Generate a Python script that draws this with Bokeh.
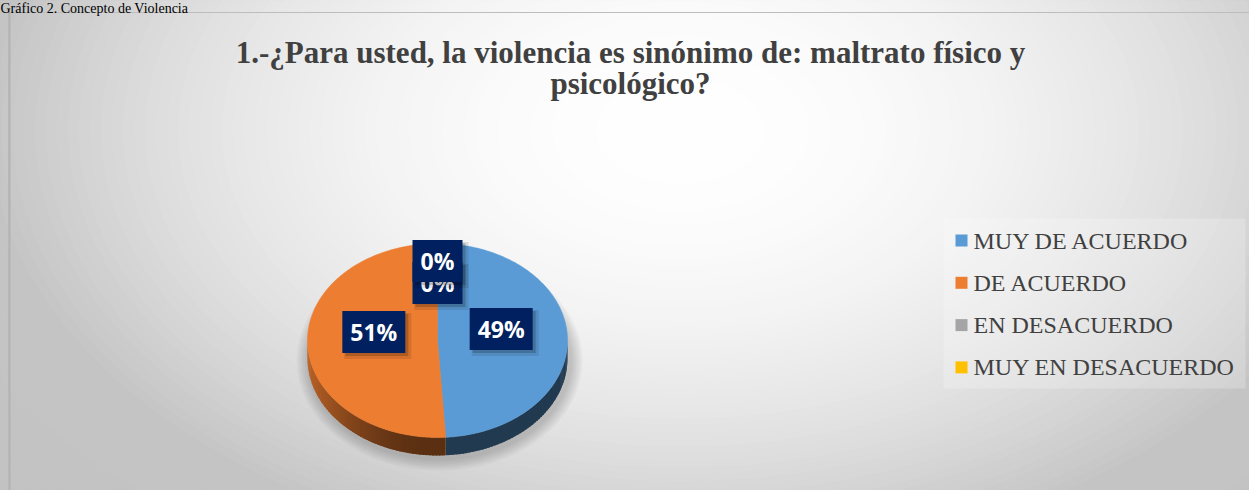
import numpy as np
from bokeh.plotting import figure
from bokeh.models import Range1d
from bokeh.core.properties import value
from bokeh.embed import file_html
from bokeh.resources import INLINE

# ---------------- data ----------------
categories = ["MUY DE ACUERDO", "DE ACUERDO", "EN DESACUERDO", "MUY EN DESACUERDO"]
values = [49, 51, 0, 0]
pct_labels = ["49%", "51%", "0%", "0%"]
colors = ["#5B9BD5", "#ED7D31", "#A5A5A5", "#FFC000"]
title_lines = ["1.-¿Para usted, la violencia es sinónimo de: maltrato físico y",
               "psicológico?"]
caption = "Gráfico 2. Concepto de Violencia"

# ---------------- figure ----------------
W, H = 1249, 490
p = figure(width=W, height=H, x_range=Range1d(0, W), y_range=Range1d(0, H),
           output_backend="svg", toolbar_location=None, min_border=0)
p.axis.visible = False
p.grid.visible = False
p.outline_line_color = None
p.background_fill_color = "white"
p.border_fill_color = "white"


def hexc(r, g, b):
    return "#%02x%02x%02x" % (int(max(0, min(255, r))), int(max(0, min(255, g))), int(max(0, min(255, b))))


# chart area frame (page 8..1249, 12..490)
p.quad(left=[8], right=[1249], bottom=[0], top=[478], fill_color="#c4c4c4", line_color=None)

# radial gradient background approximated with concentric ellipses
n = 90
gx, gy = 680, 490 - 130
hw, hh = 700, 440
for i in range(n):
    d = 1.4 * (1 - i / (n - 1)) + 0.01
    c = 197 + 58 * max(0.0, 1 - d * d) + (0 if d < 1 else -3 * min(1.0, (d - 1) / 0.4))
    p.ellipse(x=[gx], y=[gy], width=[2 * hw * d], height=[2 * hh * d], fill_color=hexc(c, c, c),
              line_color=None)
# frame edges
p.quad(left=[8], right=[1249], bottom=[0], top=[478], fill_color=None,
       line_color="#bdbdbd", line_width=1)
p.quad(left=[8], right=[10], bottom=[0], top=[478], fill_color="#b3b3b3", line_color=None)

# caption above the chart
p.text(x=[0], y=[490], text=[caption], text_color="black",
       text_font=value("Liberation Serif"), text_font_size="14px",
       text_align="left", text_baseline="top")

# ---------------- 3D pie ----------------
cx, cy, rx, ry, depth = 437, 150, 130, 97, 18
total = float(sum(values))
bounds = 90 - np.concatenate([[0], np.cumsum(values)]) / total * 360.0  # degrees, clockwise

# soft shadow under pie
for k in range(6):
    p.ellipse(x=[cx + 2], y=[cy - depth - 2], width=[2 * rx + 6 + 4 * k],
              height=[2 * ry + 6 + 4 * k], fill_color="black", fill_alpha=0.03,
              line_color=None)

# side walls (front half only)
side_xs, side_ys, side_cols = [], [], []
for i, v in enumerate(values):
    if v <= 0:
        continue
    a0, a1 = bounds[i], bounds[i + 1]  # a0 > a1
    base = np.array([int(colors[i][j:j + 2], 16) for j in (1, 3, 5)], dtype=float)
    for shift in (0, -360, 360):
        lo, hi = max(a1 + shift, -180), min(a0 + shift, 0)
        if hi <= lo:
            continue
        angs = np.linspace(lo, hi, int((hi - lo) / 1.5) + 2)
        for k in range(len(angs) - 1):
            t0 = np.radians(angs[k])
            t1 = np.radians(min(angs[k + 1] + 0.8, hi))
            xs = [cx + rx * np.cos(t0), cx + rx * np.cos(t1), cx + rx * np.cos(t1), cx + rx * np.cos(t0)]
            ys = [cy + ry * np.sin(t0), cy + ry * np.sin(t1), cy + ry * np.sin(t1) - depth,
                  cy + ry * np.sin(t0) - depth]
            tm = np.radians((angs[k] + angs[k + 1]) / 2)
            f = 0.38 + 0.40 * max(0.0, -np.cos(tm)) ** 2
            side_xs.append(xs)
            side_ys.append(ys)
            side_cols.append(hexc(*(base * f)))
p.patches(xs=side_xs, ys=side_ys, fill_color=side_cols, line_color=None)

# top faces
top_xs, top_ys, top_cols = [], [], []
for i, v in enumerate(values):
    if v <= 0:
        continue
    angs = np.radians(np.linspace(bounds[i], bounds[i + 1], 200))
    top_xs.append([cx] + list(cx + rx * np.cos(angs)))
    top_ys.append([cy] + list(cy + ry * np.sin(angs)))
    top_cols.append(colors[i])
p.patches(xs=top_xs, ys=top_ys, fill_color=top_cols, line_color=top_cols, line_width=0.5)

# ---------------- data labels ----------------
for i, v in enumerate(values):
    m = np.radians((bounds[i] + bounds[i + 1]) / 2)
    lx = cx + 0.49 * rx * np.cos(m)
    ly = cy + 0.49 * ry * np.sin(m) + 10
    if i == 3:
        ly += 22
    bw = 24 + 13 * len(pct_labels[i])
    bh = 42
    p.rect(x=[lx + 4], y=[ly - 4], width=[bw + 4], height=[bh + 4], fill_color="black",
           fill_alpha=0.10, line_color=None)
    p.rect(x=[lx + 3], y=[ly - 3], width=[bw], height=[bh], fill_color="black",
           fill_alpha=0.18, line_color=None)
    p.rect(x=[lx], y=[ly], width=[bw], height=[bh], fill_color="#002060", line_color=None)
    p.text(x=[lx], y=[ly], text=[pct_labels[i]], text_color="white",
           text_font=value("Open Sans"), text_font_style="bold", text_font_size="23px",
           text_align="center", text_baseline="middle")

# ---------------- title ----------------
p.text(x=[630, 630], y=[438, 407], text=title_lines, text_color="#404040",
       text_font=value("Liberation Serif"), text_font_style="bold", text_font_size="31px",
       text_align="center", text_baseline="middle")

# ---------------- legend ----------------
p.quad(left=[943], right=[1245], bottom=[102], top=[272], fill_color="white",
       fill_alpha=0.22, line_color=None)
ly0 = 250
for i, cat in enumerate(categories):
    yy = ly0 - i * 42.3
    p.rect(x=[961], y=[yy], width=[12], height=[12], fill_color=colors[i], line_color=None)
    p.text(x=[973], y=[yy], text=[cat], text_color="#404040",
           text_font=value("Liberation Serif"), text_font_size="24px",
           text_align="left", text_baseline="middle")

open("out.html", "w").write(file_html(p, INLINE))
